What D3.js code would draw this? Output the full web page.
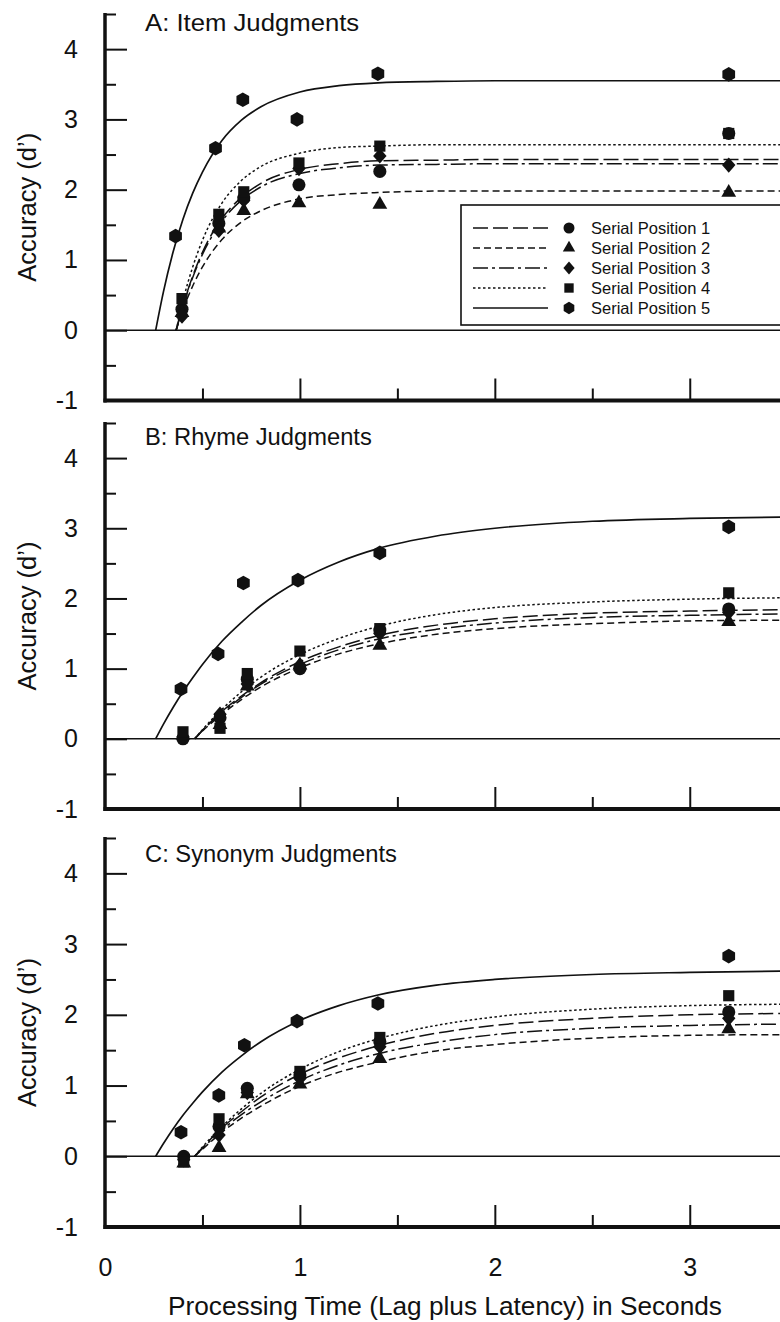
<!DOCTYPE html>
<html>
<head>
<meta charset="utf-8">
<script src="https://cdn.jsdelivr.net/npm/d3@7"></script>
<style>
  body { margin: 0; background: #fff; }
  svg { display: block; font-family: "Liberation Sans", Arial, Helvetica, sans-serif; }
  text { fill: #111; }
</style>
</head>
<body>
<svg id="chart"></svg>
<script>
const width = 780;
const height = 1322;

// series labels
const seriesNames = ["Serial Position 1", "Serial Position 2", "Serial Position 3", "Serial Position 4", "Serial Position 5"];
const panelTitles = ["A: Item Judgments", "B: Rhyme Judgments", "C: Synonym Judgments"];

// processing times of the observed points (SP1-4 share one set, SP5 its own)
const timesA = [0.395, 0.584, 0.712, 0.995, 1.41, 3.2];
const timesA5 = [0.362, 0.567, 0.707, 0.985, 1.40, 3.2];
const timesB = [0.40, 0.59, 0.73, 1.0, 1.41, 3.2];
const timesB5 = [0.39, 0.58, 0.71, 0.99, 1.41, 3.2];
const timesC = [0.404, 0.585, 0.73, 1.0, 1.41, 3.2];
const timesC5 = [0.39, 0.584, 0.715, 0.985, 1.40, 3.2];

// observed d' values, one row per serial position
const pointsA = [
  [0.30, 1.52, 1.88, 2.07, 2.26, 2.80],
  [0.25, 1.45, 1.70, 1.81, 1.79, 1.96],
  [0.20, 1.42, 1.85, 2.30, 2.48, 2.35],
  [0.45, 1.65, 1.97, 2.38, 2.62, 2.80],
  [1.34, 2.59, 3.28, 3.00, 3.65, 3.64]
];
const pointsB = [
  [0.00, 0.30, 0.85, 1.00, 1.55, 1.85],
  [0.05, 0.20, 0.75, 1.05, 1.33, 1.67],
  [0.03, 0.35, 0.78, 1.05, 1.50, 1.80],
  [0.10, 0.15, 0.93, 1.25, 1.57, 2.08],
  [0.71, 1.21, 2.22, 2.26, 2.65, 3.02]
];
const pointsC = [
  [0.00, 0.42, 0.96, 1.15, 1.62, 2.04],
  [-0.10, 0.12, 0.88, 1.02, 1.38, 1.80],
  [-0.05, 0.30, 0.90, 1.10, 1.55, 1.95],
  [-0.08, 0.53, 0.92, 1.20, 1.68, 2.27],
  [0.34, 0.86, 1.57, 1.91, 2.16, 2.83]
];

// fitted curves at these times (null = before the intercept)
const fitT = [0.3, 0.35, 0.4, 0.45, 0.5, 0.6, 0.7, 0.8, 1.0, 1.2, 1.4, 1.7, 2.0, 2.5, 3.0, 3.5];
const onsetA = [0.365, 0.365, 0.365, 0.365, 0.26];
const onsetB = [0.46, 0.46, 0.46, 0.46, 0.26];
const onsetC = [0.46, 0.46, 0.46, 0.46, 0.26];
const fitA = [
  [null, null, 0.35, 0.77, 1.11, 1.59, 1.89, 2.09, 2.29, 2.37, 2.41, 2.42, 2.43, 2.43, 2.43, 2.43],
  [null, null, 0.29, 0.63, 0.90, 1.29, 1.54, 1.70, 1.87, 1.93, 1.96, 1.98, 1.98, 1.98, 1.98, 1.98],
  [null, null, 0.35, 0.75, 1.08, 1.55, 1.85, 2.04, 2.23, 2.31, 2.35, 2.36, 2.37, 2.37, 2.37, 2.37],
  [null, null, 0.42, 0.90, 1.28, 1.81, 2.13, 2.33, 2.52, 2.60, 2.62, 2.64, 2.64, 2.64, 2.64, 2.64],
  [0.55, 1.12, 1.58, 1.95, 2.25, 2.70, 2.99, 3.18, 3.39, 3.48, 3.52, 3.54, 3.55, 3.55, 3.55, 3.55]
];
const fitB = [
  [null, null, null, null, 0.12, 0.39, 0.61, 0.80, 1.10, 1.31, 1.47, 1.62, 1.71, 1.79, 1.82, 1.84],
  [null, null, null, null, 0.11, 0.35, 0.56, 0.74, 1.01, 1.21, 1.35, 1.49, 1.57, 1.64, 1.68, 1.69],
  [null, null, null, null, 0.12, 0.37, 0.59, 0.78, 1.06, 1.27, 1.42, 1.56, 1.65, 1.73, 1.76, 1.78],
  [null, null, null, null, 0.13, 0.42, 0.67, 0.88, 1.20, 1.43, 1.60, 1.77, 1.87, 1.95, 1.99, 2.01],
  [0.21, 0.45, 0.67, 0.87, 1.06, 1.39, 1.66, 1.90, 2.26, 2.52, 2.71, 2.89, 3.00, 3.10, 3.14, 3.16]
];
const fitC = [
  [null, null, null, null, 0.12, 0.40, 0.63, 0.84, 1.16, 1.39, 1.56, 1.74, 1.85, 1.95, 2.00, 2.02],
  [null, null, null, null, 0.10, 0.34, 0.54, 0.71, 0.99, 1.19, 1.33, 1.49, 1.58, 1.67, 1.71, 1.72],
  [null, null, null, null, 0.11, 0.37, 0.59, 0.77, 1.07, 1.29, 1.45, 1.61, 1.72, 1.81, 1.85, 1.87],
  [null, null, null, null, 0.13, 0.42, 0.67, 0.89, 1.23, 1.48, 1.66, 1.85, 1.97, 2.08, 2.13, 2.15],
  [0.18, 0.39, 0.58, 0.75, 0.91, 1.19, 1.42, 1.62, 1.92, 2.13, 2.28, 2.42, 2.50, 2.57, 2.60, 2.62]
];

const xMajor = [1, 2, 3];
const xMinor = [0.5, 1.5, 2.5];
const yMajor = [-1, 0, 1, 2, 3, 4];
const yMinor = [-0.5, 0.5, 1.5, 2.5, 3.5, 4.5];

const panels = [
  { title: panelTitles[0], times: timesA, times5: timesA5, points: pointsA, fit: fitA, onset: onsetA, top: 14, bottom: 400.5, titleY: 30.5 },
  { title: panelTitles[1], times: timesB, times5: timesB5, points: pointsB, fit: fitB, onset: onsetB, top: 423, bottom: 809, titleY: 445 },
  { title: panelTitles[2], times: timesC, times5: timesC5, points: pointsC, fit: fitC, onset: onsetC, top: 838, bottom: 1227, titleY: 862 }
];

// line styles per serial position
const dashes = ["15,5", "7,4", "15,4,3,4", "2.5,2.5", null];

// hexagon & diamond symbol types
const symbolHexagon = {
  draw(ctx, size) {
    const r = Math.sqrt(size / (1.5 * Math.sqrt(3)));
    for (let i = 0; i < 6; i++) {
      const a = -Math.PI / 2 + i * Math.PI / 3;
      if (i === 0) ctx.moveTo(r * Math.cos(a), r * Math.sin(a));
      else ctx.lineTo(r * Math.cos(a), r * Math.sin(a));
    }
    ctx.closePath();
  }
};
const symbolRhomb = {
  draw(ctx, size) {
    const h = Math.sqrt(size / 2);
    ctx.moveTo(0, -h * 1.08);
    ctx.lineTo(h * 0.95, 0);
    ctx.lineTo(0, h * 1.08);
    ctx.lineTo(-h * 0.95, 0);
    ctx.closePath();
  }
};
const symbolTypes = [d3.symbolCircle, d3.symbolTriangle, symbolRhomb, d3.symbolSquare, symbolHexagon];
const symbolSizes = [135, 95, 100, 125, 140];

const svg = d3.select("#chart")
  .attr("width", width)
  .attr("height", height);

svg.append("rect").attr("width", width).attr("height", height).attr("fill", "#fff");

const x = d3.scaleLinear().domain([0, 3.463]).range([105, 780]);

panels.forEach((p, pi) => {
  const y = d3.scaleLinear().domain([-1, 4.5]).range([p.bottom, p.top]);
  const g = svg.append("g");

  // zero line
  g.append("line")
    .attr("x1", x(0)).attr("x2", width)
    .attr("y1", y(0)).attr("y2", y(0))
    .attr("stroke", "#111").attr("stroke-width", 1.6);

  // y ticks (inside) and labels
  g.append("g")
    .attr("transform", `translate(${x(0)},0)`)
    .call(d3.axisRight(y).tickValues(yMajor).tickSize(22).tickFormat(""))
    .call(a => a.select(".domain").remove())
    .call(a => a.selectAll("line").attr("stroke", "#111").attr("stroke-width", 2));
  g.append("g")
    .attr("transform", `translate(${x(0)},0)`)
    .call(d3.axisRight(y).tickValues(yMinor).tickSize(11).tickFormat(""))
    .call(a => a.select(".domain").remove())
    .call(a => a.selectAll("line").attr("stroke", "#111").attr("stroke-width", 2));
  g.append("g")
    .attr("transform", `translate(${x(0)},0)`)
    .call(d3.axisLeft(y).tickValues(yMajor).tickSize(0).tickPadding(27).tickFormat(d3.format("d")))
    .call(a => a.select(".domain").remove())
    .call(a => a.selectAll("text")
      .attr("font-size", 25)
      .attr("font-family", "Liberation Sans, Arial, sans-serif")
      .attr("fill", "#111")
      .text(d => d < 0 ? "-" + Math.abs(d) : d));

  // x ticks (inside, pointing up)
  g.append("g")
    .attr("transform", `translate(0,${p.bottom})`)
    .call(d3.axisTop(x).tickValues(xMajor).tickSize(22).tickFormat(""))
    .call(a => a.select(".domain").remove())
    .call(a => a.selectAll("line").attr("stroke", "#111").attr("stroke-width", 2));
  g.append("g")
    .attr("transform", `translate(0,${p.bottom})`)
    .call(d3.axisTop(x).tickValues(xMinor).tickSize(12).tickFormat(""))
    .call(a => a.select(".domain").remove())
    .call(a => a.selectAll("line").attr("stroke", "#111").attr("stroke-width", 2));

  // thick frame lines
  g.append("line")
    .attr("x1", x(0)).attr("x2", x(0))
    .attr("y1", y(4.5) - 1).attr("y2", p.bottom + 2)
    .attr("stroke", "#111").attr("stroke-width", 3.5);
  g.append("line")
    .attr("x1", x(0) - 1.5).attr("x2", width)
    .attr("y1", p.bottom).attr("y2", p.bottom)
    .attr("stroke", "#111").attr("stroke-width", 4);

  // y axis title
  g.append("text")
    .attr("transform", `translate(36,${(p.top + p.bottom) / 2}) rotate(-90)`)
    .attr("text-anchor", "middle")
    .attr("font-size", 25.5)
    .text("Accuracy (d’)");

  // panel title
  g.append("text")
    .attr("x", 145).attr("y", p.titleY)
    .attr("font-size", 23)
    .attr("textLength", p.title.length * 12.6)
    .attr("lengthAdjust", "spacingAndGlyphs")
    .text(p.title);

  // fitted curves
  const line = d3.line()
    .x(d => x(d[0]))
    .y(d => y(d[1]))
    .curve(d3.curveMonotoneX);

  p.fit.forEach((vals, si) => {
    const pts = [[p.onset[si], 0]].concat(
      fitT.map((t, i) => [t, vals[i]]).filter(d => d[1] !== null && d[0] > p.onset[si]));
    g.append("path")
      .attr("d", line(pts))
      .attr("fill", "none")
      .attr("stroke", "#111")
      .attr("stroke-width", si === 4 ? 1.7 : 1.5)
      .attr("stroke-dasharray", dashes[si]);
  });

  // observed points
  p.points.forEach((vals, si) => {
    const times = si === 4 ? p.times5 : p.times;
    g.append("g").selectAll("path")
      .data(vals.map((v, i) => [times[i], v]))
      .enter().append("path")
      .attr("transform", d => `translate(${x(d[0])},${y(d[1])})`)
      .attr("d", d3.symbol().type(symbolTypes[si]).size(symbolSizes[si]))
      .attr("fill", "#111");
  });

  // legend only in panel A
  if (pi === 0) {
    const lg = g.append("g");
    lg.append("rect")
      .attr("x", 461).attr("y", 205)
      .attr("width", 360).attr("height", 120)
      .attr("fill", "#fff")
      .attr("stroke", "#111").attr("stroke-width", 1.6);
    seriesNames.forEach((name, si) => {
      const ly = 228 + si * 20;
      lg.append("line")
        .attr("x1", 473).attr("x2", 548)
        .attr("y1", ly).attr("y2", ly)
        .attr("stroke", "#111").attr("stroke-width", 1.5)
        .attr("stroke-dasharray", dashes[si]);
      lg.append("path")
        .attr("transform", `translate(569,${ly})`)
        .attr("d", d3.symbol().type(symbolTypes[si]).size(symbolSizes[si] * 0.7))
        .attr("fill", "#111");
      lg.append("text")
        .attr("x", 591).attr("y", ly + 6)
        .attr("font-size", 16.5)
        .text(name);
    });
  }

  // x tick labels + axis title on the bottom panel
  if (pi === panels.length - 1) {
    g.append("g")
      .attr("transform", `translate(0,${p.bottom})`)
      .call(d3.axisBottom(x).tickValues([0, 1, 2, 3]).tickSize(0).tickPadding(31).tickFormat(d3.format("d")))
      .call(a => a.select(".domain").remove())
      .call(a => a.selectAll("text")
        .attr("font-size", 25)
        .attr("font-family", "Liberation Sans, Arial, sans-serif")
        .attr("fill", "#111"));
    g.append("text")
      .attr("x", 445).attr("y", 1315)
      .attr("text-anchor", "middle")
      .attr("font-size", 25)
      .attr("textLength", 554)
      .attr("lengthAdjust", "spacingAndGlyphs")
      .text("Processing Time (Lag plus Latency) in Seconds");
  }
});
</script>
</body>
</html>
